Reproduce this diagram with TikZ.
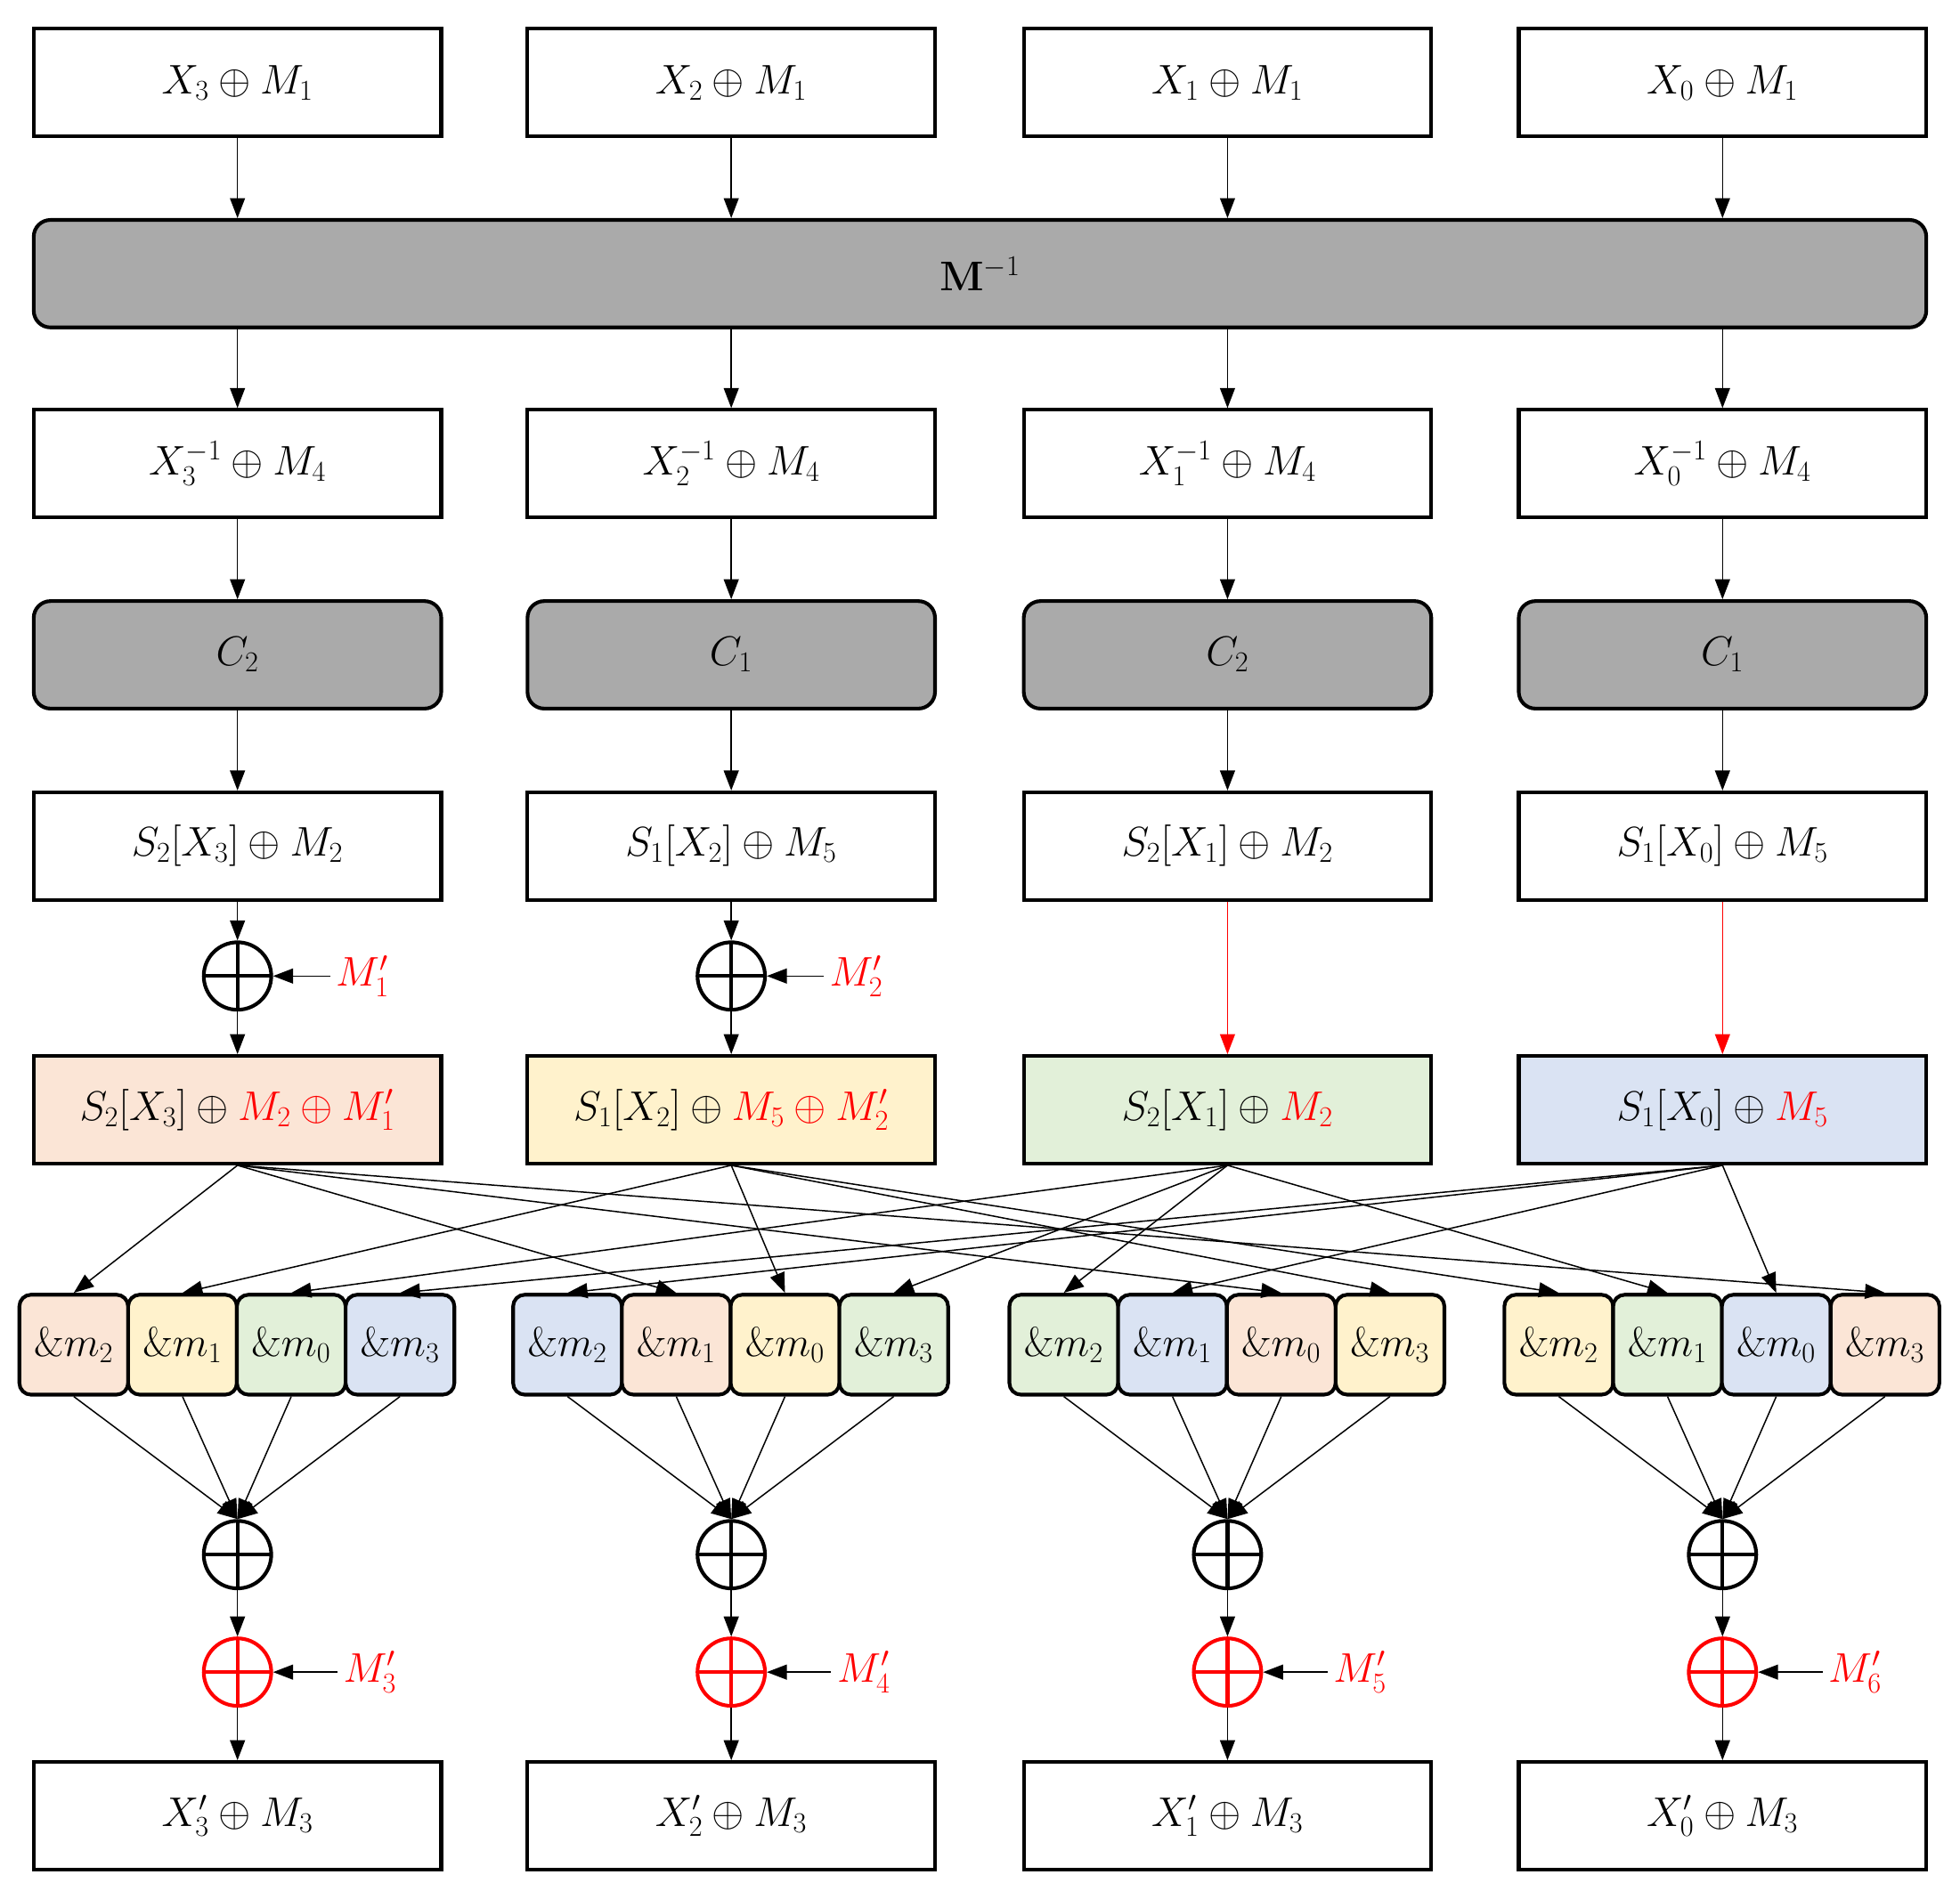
\documentclass[tikz,border=0pt]{standalone}
\usetikzlibrary{arrows.meta}
\begin{document}
\begin{tikzpicture}[x=0.75pt,y=-0.75pt,
 box/.style={draw,line width=2.2pt,minimum width=326*0.75pt,minimum height=86*0.75pt,inner sep=0pt,font=\fontsize{24}{28}\selectfont},
 gbox/.style={box,rounded corners=10pt,fill=gray!60!white!95!black},
 cell/.style={draw,line width=2.2pt,rounded corners=7pt,minimum width=87*0.75pt,minimum height=80*0.75pt,inner sep=0pt,font=\fontsize{23}{26}\selectfont},
 xo/.style={circle,draw,line width=2.2pt,minimum size=54*0.75pt,inner sep=0pt,path picture={\draw[line width=2.2pt,draw=\pgfkeysvalueof{/tikz/xocol}] (path picture bounding box.north)--(path picture bounding box.south) (path picture bounding box.west)--(path picture bounding box.east);}},
 xocol/.initial=black,
 arr/.style={-{Triangle[length=12pt,width=9pt]},line width=0.8pt},
 lab/.style={text=red,font=\fontsize{24}{28}\selectfont}]
\definecolor{pe}{HTML}{FBE5D6}\definecolor{ye}{HTML}{FFF2CC}\definecolor{gr}{HTML}{E2F0D9}\definecolor{bl}{HTML}{DAE3F3}
\useasboundingbox (0,0) rectangle (1568,1519);
\node[gbox,minimum width=1514*0.75pt] (M) at (784,219) {$\mathbf{M}^{-1}$};
\foreach \i/\x/\k/\c/\s/\mm in {3/190/2/pe/2/2,2/585/1/ye/1/5,1/982/2/gr/2/2,0/1378/1/bl/1/5}{
 \node[box] (t\i) at (\x,66) {$X_{\i}\oplus M_1$};
 \node[box] (v\i) at (\x,371) {$X_{\i}^{-1}\oplus M_4$};
 \node[gbox] (c\i) at (\x,524) {$C_{\k}$};
 \node[box] (s\i) at (\x,677) {$S_{\s}[X_{\i}]\oplus M_{\mm}$};
 \node[xo] (x\i) at (\x,1244) {};
 \node[xo,draw=red,xocol=red] (r\i) at (\x,1338) {};
 \node[box] (b\i) at (\x,1453) {$X'_{\i}\oplus M_3$};
 \draw[arr] (t\i) -- (t\i|-M.north);
 \draw[arr] (M.south-|v\i) -- (v\i);
 \draw[arr] (v\i) -- (c\i);
 \draw[arr] (c\i) -- (s\i);
 \draw[arr] (x\i) -- (r\i);
 \draw[arr] (r\i) -- (b\i);
}
\node[box,fill=pe] (k3) at (190,888) {$S_2[X_3]\oplus\textcolor{red}{M_2\oplus M'_1}$};
\node[box,fill=ye] (k2) at (585,888) {$S_1[X_2]\oplus\textcolor{red}{M_5\oplus M'_2}$};
\node[box,fill=gr] (k1) at (982,888) {$S_2[X_1]\oplus\textcolor{red}{M_2}$};
\node[box,fill=bl] (k0) at (1378,888) {$S_1[X_0]\oplus\textcolor{red}{M_5}$};
\node[xo] (p3) at (190,781) {};
\node[xo] (p2) at (585,781) {};
\node[lab,anchor=west] (l1) at (264,781) {$M'_1$};
\node[lab,anchor=west] (l2) at (659,781) {$M'_2$};
\draw[arr] (s3) -- (p3); \draw[arr] (p3) -- (k3); \draw[arr] (l1) -- (p3);
\draw[arr] (s2) -- (p2); \draw[arr] (p2) -- (k2); \draw[arr] (l2) -- (p2);
\draw[arr,red] (s1) -- (k1); \draw[arr,red] (s0) -- (k0);
\foreach \i/\x/\n in {3/190/3,2/585/4,1/982/5,0/1378/6}{
 \node[lab,anchor=west] (lm\i) at (\x+80,1338) {$M'_{\n}$};
 \draw[arr] (lm\i) -- (r\i);
}
% cells: group g, column center
\foreach \g/\x/\ca/\cb/\cc/\cd in {3/190/pe/ye/gr/bl,2/585/bl/pe/ye/gr,1/982/gr/bl/pe/ye,0/1378/ye/gr/bl/pe}{
 \node[cell,fill=\ca] (m\g a) at (\x-131,1076) {$\&m_2$};
 \node[cell,fill=\cb] (m\g b) at (\x-44,1076) {$\&m_1$};
 \node[cell,fill=\cc] (m\g c) at (\x+43,1076) {$\&m_0$};
 \node[cell,fill=\cd] (m\g d) at (\x+130,1076) {$\&m_3$};
 \foreach \j in {a,b,c,d}{\draw[arr] (m\g\j.south) -- (x\g.north);}
}
\foreach \s/\t in {k3/m3a,k3/m2b,k3/m1c,k3/m0d,
 k2/m3b,k2/m2c,k2/m1d,k2/m0a,
 k1/m3c,k1/m2d,k1/m1a,k1/m0b,
 k0/m3d,k0/m2a,k0/m1b,k0/m0c}{
 \draw[arr] (\s.south) -- (\t.north);
}
\end{tikzpicture}
\end{document}
